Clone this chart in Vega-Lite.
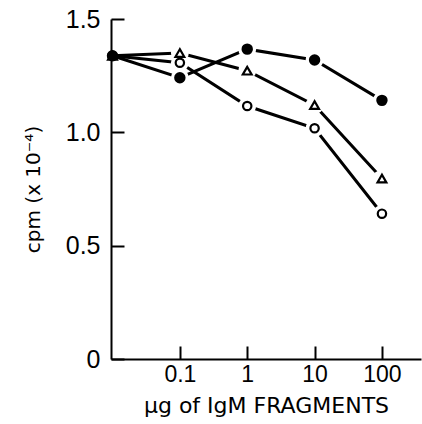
{
  "$schema": "https://vega.github.io/schema/vega-lite/v6.json",
  "width": 310,
  "height": 340,
  "autosize": {"type": "none"},
  "padding": {"left": 111, "top": 19, "right": 1, "bottom": 65},
  "background": "white",
  "config": {
    "view": {"stroke": null},
    "axis": {"grid": false, "domainColor": "black", "domainWidth": 2, "tickColor": "black", "tickWidth": 2, "labelColor": "black", "titleColor": "black", "labelFont": "Liberation Sans", "titleFont": "DejaVu Sans", "titleFontWeight": "normal"}
  },
  "data": {
    "values": [
      {"series": "C", "dose": 0.01, "cpm": 1.338},
      {"series": "C", "dose": 0.1, "cpm": 1.307},
      {"series": "C", "dose": 1, "cpm": 1.116},
      {"series": "C", "dose": 10, "cpm": 1.018},
      {"series": "C", "dose": 100, "cpm": 0.641},
      {"series": "B", "dose": 0.01, "cpm": 1.338},
      {"series": "B", "dose": 0.1, "cpm": 1.350},
      {"series": "B", "dose": 1, "cpm": 1.272},
      {"series": "B", "dose": 10, "cpm": 1.120},
      {"series": "B", "dose": 100, "cpm": 0.796},
      {"series": "A", "dose": 0.01, "cpm": 1.338},
      {"series": "A", "dose": 0.1, "cpm": 1.241},
      {"series": "A", "dose": 1, "cpm": 1.367},
      {"series": "A", "dose": 10, "cpm": 1.319},
      {"series": "A", "dose": 100, "cpm": 1.141}
    ]
  },
  "encoding": {
    "x": {
      "field": "dose", "type": "quantitative",
      "scale": {"type": "log", "domain": [0.0095, 380], "nice": false},
      "axis": {"values": [0.1, 1, 10, 100], "labelExpr": "format(datum.value, '~g')", "tickSize": -13, "labelPadding": 17, "labelFontSize": 23, "labelFlush": false, "title": "µg of IgM FRAGMENTS", "titleFontSize": 22, "titlePadding": 9}
    },
    "y": {
      "field": "cpm", "type": "quantitative",
      "scale": {"domain": [0, 1.5], "nice": false, "zero": true},
      "axis": {"values": [0, 0.5, 1.0, 1.5], "labelExpr": "datum.value == 0 ? '0' : format(datum.value, '.1f')", "tickSize": -13, "labelPadding": 24, "labelFontSize": 25, "labelFlush": false, "title": "cpm (x 10⁻⁴)", "titleFontSize": 20, "titlePadding": 22}
    }
  },
  "layer": [
    {
      "mark": {"type": "line", "color": "black", "strokeWidth": 3},
      "encoding": {"detail": {"field": "series"}}
    },
    {
      "transform": [{"filter": "datum.dose > 0.02"}],
      "mark": {"type": "point", "filled": true, "color": "white", "size": 320, "shape": "circle", "opacity": 1}
    },
    {
      "mark": {"type": "point", "strokeWidth": 2.2, "opacity": 1, "stroke": "black"},
      "encoding": {
        "shape": {"field": "series", "type": "nominal", "scale": {"domain": ["A", "B", "C"], "range": ["circle", "triangle-up", "circle"]}, "legend": null},
        "fill": {"field": "series", "type": "nominal", "scale": {"domain": ["A", "B", "C"], "range": ["black", "white", "white"]}, "legend": null},
        "size": {"field": "series", "type": "nominal", "scale": {"domain": ["A", "B", "C"], "range": [85, 70, 60]}, "legend": null}
      }
    }
  ]
}
